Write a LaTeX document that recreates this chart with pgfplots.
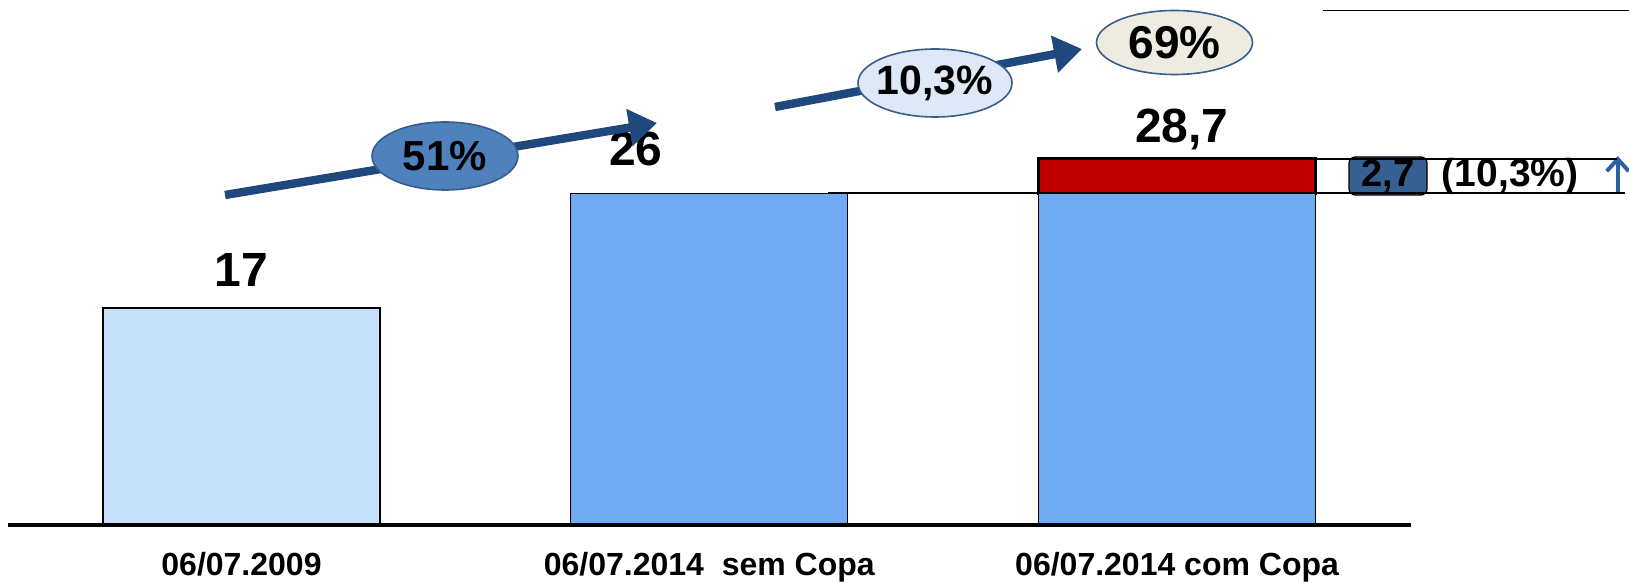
\documentclass[border=0pt]{standalone}
\usepackage{pgfplots}
\pgfplotsset{compat=1.18}
\usetikzlibrary{arrows.meta}
\usepackage{fontspec}
\setmainfont{Liberation Sans}
\definecolor{barlight}{RGB}{198,224,250}
\definecolor{barmed}{RGB}{112,170,242}
\definecolor{barred}{RGB}{192,0,0}
\definecolor{arrowblue}{RGB}{31,73,125}
\definecolor{ellA}{RGB}{79,129,189}
\definecolor{ellB}{RGB}{222,232,246}
\definecolor{ellC}{RGB}{238,236,225}
\definecolor{ellEdge}{RGB}{56,93,138}
\definecolor{boxblue}{RGB}{55,96,146}
\definecolor{uparrow}{RGB}{46,95,160}
\begin{document}
\begin{tikzpicture}
\path[use as bounding box] (0,0) rectangle (814.5pt,291.5pt);
\begin{axis}[
  at={(3.8pt,29pt)}, anchor=south west,
  scale only axis, width=701.7pt, height=262.5pt,
  xmin=-0.5, xmax=2.5, ymin=0, ymax=41.14,
  ybar stacked, bar width=0.592,
  hide y axis, axis x line*=bottom,
  x axis line style={-, line width=2pt},
  xtick={0,1,2},
  xticklabels={06/07.2009, 06/07.2014~ sem Copa, 06/07.2014 com Copa},
  major tick length=0pt,
  xticklabel style={font=\bfseries\fontsize{16}{19}\selectfont, anchor=base, yshift=-25.5pt},
  clip=false,
  axis on top,
]
\addplot[fill=barlight, draw=black, line width=0.6pt] coordinates {(0,17) (1,0) (2,0)};
\addplot[fill=barmed, draw=black, line width=0.6pt] coordinates {(0,0) (1,26) (2,26)};
\addplot[fill=barred, draw=black, line width=1.3pt] coordinates {(0,0) (1,0) (2,2.7)};

% value labels
\node[anchor=base, font=\bfseries\fontsize{24}{28}\selectfont, yshift=11pt] at (axis cs:0,17) {17};
\node[anchor=base, font=\bfseries\fontsize{24}{28}\selectfont, yshift=14pt] at (axis cs:0.843,26) {26};
\node[anchor=base, font=\bfseries\fontsize{24}{28}\selectfont, yshift=8pt] at (axis cs:2.01,28.7) {28,7};

% bracket lines
\draw[black, line width=0.8pt] (axis cs:1.704,28.7) -- (axis cs:2.940,28.7);
\draw[black, line width=0.8pt] (axis cs:1.254,26) -- (axis cs:2.957,26);
\node[fill=boxblue, draw=black, line width=0.6pt, rounded corners=3pt, minimum width=39pt, minimum height=19pt, inner sep=1pt, font=\bfseries\fontsize{19}{21}\selectfont] at (axis cs:2.451,27.35) {2,7};
\node[font=\bfseries\fontsize{19.5}{21}\selectfont] at (axis cs:2.712,27.35) {(10,3\%)};
\draw[uparrow, line width=2pt, -{Straight Barb[length=6pt, width=11pt]}] (axis cs:2.942,26) -- (axis cs:2.942,28.9);
\end{axis}

\begin{scope}[shift={(0,291.5pt)}, x=0.5pt, y=-0.5pt]
  % top-right line
  \draw[black, line width=0.8pt] (1323,10.7) -- (1629,10.7);
  % arrows
  \draw[arrowblue, line width=4.2pt, -{Triangle[length=14pt, width=18pt]}] (225,195) -- (657,123);
  \draw[arrowblue, line width=4.2pt, -{Triangle[length=14pt, width=18pt]}] (775,107) -- (1082,49);
  % ellipses
  \draw[fill=ellA, draw=ellEdge, line width=0.8pt] (445,156) ellipse [x radius=36.5pt, y radius=17pt];
  \node[font=\bfseries\fontsize{21}{23}\selectfont] at (445,156) {51\%};
  \draw[fill=ellB, draw=ellEdge, line width=0.8pt] (935,83) ellipse [x radius=38.5pt, y radius=17pt];
  \node[font=\bfseries\fontsize{20.5}{22}\selectfont] at (935,83) {10,3\%};
  \draw[fill=ellC, draw=ellEdge, line width=0.8pt] (1174.5,42.5) ellipse [x radius=39pt, y radius=16pt];
  \node[font=\bfseries\fontsize{23}{25}\selectfont] at (1174.5,43) {69\%};
\end{scope}
\end{tikzpicture}
\end{document}
